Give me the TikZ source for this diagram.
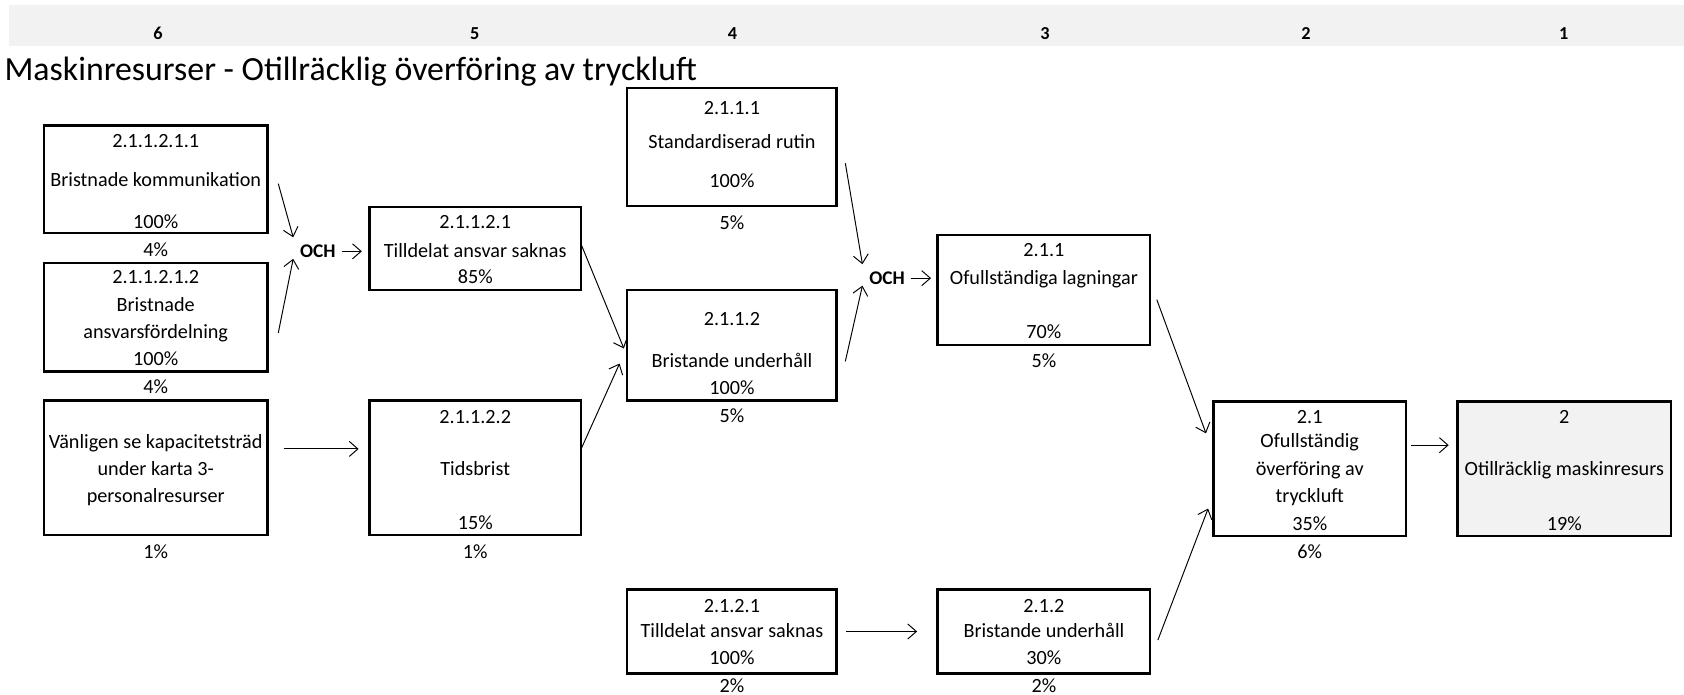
\documentclass[tikz,border=0pt]{standalone}
\usepackage{fontspec}
\setmainfont{Carlito}
\usetikzlibrary{arrows.meta,calc}
\definecolor{band}{HTML}{F2F2F2}
\begin{document}
\begin{tikzpicture}[x=1pt,y=-1pt,
  box/.style={draw=black,line width=2.2pt,inner sep=0pt},
  lbl/.style={anchor=base,inner sep=0pt,font=\fontsize{18.8}{22}\selectfont},
  hdr/.style={anchor=base,inner sep=0pt,font=\fontsize{17}{20}\selectfont\bfseries},
  och/.style={inner sep=1pt,font=\fontsize{18}{21}\selectfont\bfseries},
  arr/.style={line width=0.9pt,-{Straight Barb[length=8pt,width=14pt]}},
]
\useasboundingbox (0,0) rectangle (1568,647);

% header band with level numbers
\fill[band] (8,5) rectangle (1568,43);
\node[hdr] (h6) at (147,37) {6};
\node[hdr] (h5) at (442,37) {5};
\node[hdr] (h4) at (682,37) {4};
\node[hdr] (h3) at (973,37) {3};
\node[hdr] (h2) at (1216,37) {2};
\node[hdr] (h1) at (1456,37) {1};

% title
\node[anchor=base west,inner sep=0pt,font=\fontsize{31.5}{36}\selectfont] (title) at (4,75)
  {Maskinresurser - Otillräcklig överföring av tryckluft};

% level 6
\node[box,minimum width=208pt,minimum height=100pt] (a1) at (145,167) {};
\node[lbl] (a1n) at (145,137) {2.1.1.2.1.1};
\node[lbl] (a1t) at (145,174) {Bristnade kommunikation};
\node[lbl] (a1p) at (145,213) {100\%};
\node[lbl] (a1q) at (145,239) {4\%};

\node[box,minimum width=208pt,minimum height=101pt] (a2) at (145,295.5) {};
\node[lbl] (a2n) at (145,264) {2.1.1.2.1.2};
\node[lbl] (a2t) at (145,290) {Bristnade};
\node[lbl] (a2u) at (145,315) {ansvarsfördelning};
\node[lbl] (a2p) at (145,340) {100\%};
\node[lbl] (a2q) at (145,366) {4\%};

\node[box,minimum width=208pt,minimum height=125pt] (a3) at (145,435.5) {};
\node[lbl] (a3t) at (145,418) {Vänligen se kapacitetsträd};
\node[lbl] (a3u) at (145,443) {under karta 3-};
\node[lbl] (a3v) at (145,468) {personalresurser};
\node[lbl] (a3q) at (145,520) {1\%};

\node[och] (och1) at (296,234) {OCH};

% level 5
\node[box,minimum width=197pt,minimum height=77pt] (b1) at (442.5,231.5) {};
\node[lbl] (b1n) at (442.5,213) {2.1.1.2.1};
\node[lbl] (b1t) at (442.5,240) {Tilldelat ansvar saknas};
\node[lbl] (b1p) at (442.5,264) {85\%};

\node[box,minimum width=197pt,minimum height=125pt] (b2) at (442.5,435.5) {};
\node[lbl] (b2n) at (442.5,394) {2.1.1.2.2};
\node[lbl] (b2t) at (442.5,443) {Tidsbrist};
\node[lbl] (b2p) at (442.5,493) {15\%};
\node[lbl] (b2q) at (442.5,520) {1\%};

% level 4
\node[box,minimum width=195pt,minimum height=110pt] (c1) at (681.5,137) {};
\node[lbl] (c1n) at (681.5,107) {2.1.1.1};
\node[lbl] (c1t) at (681.5,138) {Standardiserad rutin};
\node[lbl] (c1p) at (681.5,175) {100\%};
\node[lbl] (c1q) at (681.5,214) {5\%};

\node[box,minimum width=195pt,minimum height=103pt] (c2) at (681.5,321.5) {};
\node[lbl] (c2n) at (681.5,303) {2.1.1.2};
\node[lbl] (c2t) at (681.5,342) {Bristande underhåll};
\node[lbl] (c2p) at (681.5,367) {100\%};
\node[lbl] (c2q) at (681.5,393) {5\%};

\node[box,minimum width=195pt,minimum height=78pt] (c3) at (681.5,588) {};
\node[lbl] (c3n) at (681.5,570) {2.1.2.1};
\node[lbl] (c3t) at (681.5,594) {Tilldelat ansvar saknas};
\node[lbl] (c3p) at (681.5,619) {100\%};
\node[lbl] (c3q) at (681.5,645) {2\%};

\node[och] (och2) at (826,259) {OCH};

% level 3
\node[box,minimum width=198pt,minimum height=102pt] (d1) at (972,270) {};
\node[lbl] (d1n) at (972,239) {2.1.1};
\node[lbl] (d1t) at (972,265) {Ofullständiga lagningar};
\node[lbl] (d1p) at (972,315) {70\%};
\node[lbl] (d1q) at (972,342) {5\%};

\node[box,minimum width=198pt,minimum height=78pt] (d2) at (972,588) {};
\node[lbl] (d2n) at (972,570) {2.1.2};
\node[lbl] (d2t) at (972,594) {Bristande underhåll};
\node[lbl] (d2p) at (972,619) {30\%};
\node[lbl] (d2q) at (972,645) {2\%};

% level 2
\node[box,minimum width=179pt,minimum height=125pt] (e) at (1219.5,436.5) {};
\node[lbl] (en) at (1219.5,394) {2.1};
\node[lbl] (et) at (1219.5,417) {Ofullständig};
\node[lbl] (eu) at (1219.5,443) {överföring av};
\node[lbl] (ev) at (1219.5,468) {tryckluft};
\node[lbl] (ep) at (1219.5,494) {35\%};
\node[lbl] (eq) at (1219.5,520) {6\%};

% level 1
\node[box,fill=band,minimum width=199pt,minimum height=125pt] (f) at (1456.5,436.5) {};
\node[lbl] (fn) at (1456.5,394) {2};
\node[lbl] (ft) at (1456.5,443) {Otillräcklig maskinresurs};
\node[lbl] (fp) at (1456.5,494) {19\%};

% connectors
\draw[arr] ($(a1.east)+(9,4)$) -- ($(och1.center)+(-23,-13)$);
\draw[arr] ($(a2.east)+(9,14.5)$) -- ($(och1.center)+(-23,7)$);
\draw[arr] ($(och1.center)+(22,0)$) -- ($(b1.west)+(-6,2.5)$);
\draw[arr] ($(a3.east)+(14,-17.5)$) -- ($(b2.west)+(-9,-17.5)$);
\draw[arr] ($(b1.east)+(-1,-4)$) -- ($(c2.west)+(-2,3)$);
\draw[arr] ($(b2.east)+(-1,-17.5)$) -- ($(c2.west)+(-6,17)$);
\draw[arr] ($(c1.east)+(7,15)$) -- ($(och2.center)+(-23,-13)$);
\draw[arr] ($(c2.east)+(7,15)$) -- ($(och2.center)+(-23,7)$);
\draw[arr] ($(och2.center)+(22,0)$) -- ($(d1.west)+(-5,-11)$);
\draw[arr] ($(c3.east)+(8,0)$) -- ($(d2.west)+(-18,0)$);
\draw[arr] ($(d1.east)+(5,9)$) -- ($(e.west)+(-6,-33)$);
\draw[arr] ($(d2.east)+(6,8)$) -- ($(e.west)+(-4,37)$);
\draw[arr] ($(e.east)+(4,-22)$) -- ($(f.west)+(-7,-22)$);
\end{tikzpicture}
\end{document}
